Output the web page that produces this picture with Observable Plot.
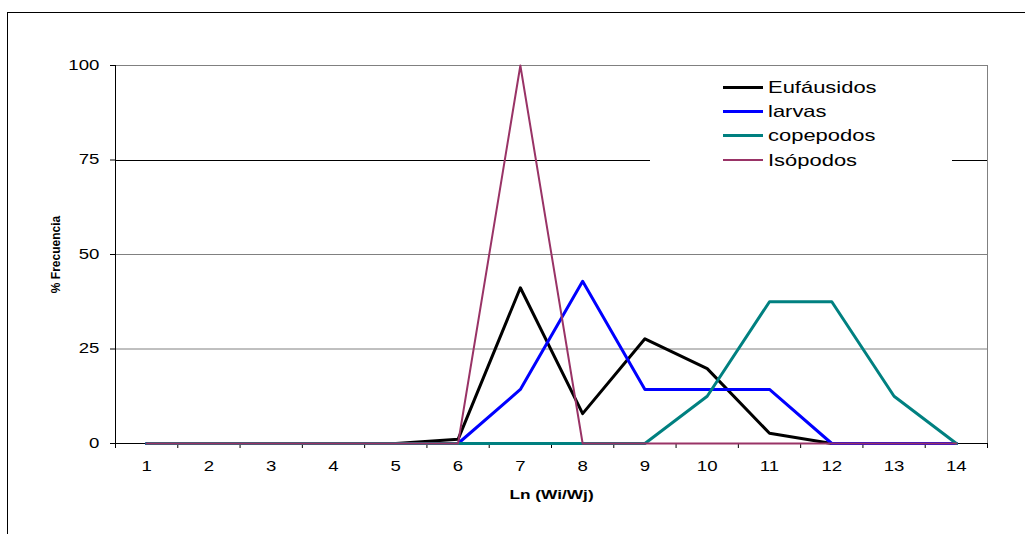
<!DOCTYPE html>
<html>
<head>
<meta charset="utf-8">
<script src="https://cdn.jsdelivr.net/npm/d3@7"></script>
<script src="https://cdn.jsdelivr.net/npm/@observablehq/plot@0.6"></script>
<style>
  html, body { margin: 0; padding: 0; background: #fff; overflow: hidden; }
  #wrap { position: relative; width: 1025px; height: 534px; font-family: "Liberation Sans", Arial, sans-serif; }
  #frame { position: absolute; left: 7px; top: 12px; width: 2000px; height: 2000px; border-left: 1px solid #000; border-top: 1px solid #000; }
  #chart { position: absolute; left: 0; top: 0; }
  #legend { position: absolute; left: 650px; top: 72px; width: 302px; height: 100px; background: #fff; }
  .lrow { position: absolute; left: 0; height: 24px; }
  .lline { position: absolute; left: 73px; width: 40px; }
  .ltext { position: absolute; left: 118px; font-size: 16.5px; line-height: 20px; white-space: nowrap; transform: scaleX(1.33); transform-origin: left center; color: #000; }
</style>
</head>
<body>
<div id="wrap">
  <div id="frame"></div>
  <div id="chart"></div>
  <div id="legend"></div>
</div>
<script>
// ---- data ----
const categories = [1, 2, 3, 4, 5, 6, 7, 8, 9, 10, 11, 12, 13, 14];
const eufausidos = [0, 0, 0, 0, 0, 1.1, 41.2, 7.9, 27.7, 19.8, 2.7, 0, 0, 0];
const larvas     = [0, 0, 0, 0, 0, 0, 14.3, 42.9, 14.3, 14.3, 14.3, 0, 0, 0];
const copepodos  = [0, 0, 0, 0, 0, 0, 0, 0, 0, 12.5, 37.5, 37.5, 12.5, 0];
const isopodos   = [0, 0, 0, 0, 0, 0, 100, 0, 0, 0, 0, 0, 0, 0];
const seriesNames = ["Eufáusidos", "larvas", "copepodos", "Isópodos"];
const seriesColors = ["#000000", "#0000ff", "#008080", "#993366"];
const seriesWidths = [3, 3, 3, 2];
const yTicks = [0, 25, 50, 75, 100];
const xTitle = "Ln (Wi/Wj)";
const yTitle = "% Frecuencia";

const seriesValues = [eufausidos, larvas, copepodos, isopodos];
const boundaries = [categories[0] - 0.5, ...categories.map(c => c + 0.5)];
const lo = boundaries[0], hi = boundaries[boundaries.length - 1];

const lineMarks = seriesValues.map((vals, i) =>
  Plot.line(categories.map((c, j) => ({x: c, y: vals[j]})), {
    x: "x", y: "y", stroke: seriesColors[i], strokeWidth: seriesWidths[i], strokeLinejoin: "round"
  })
);

const chart = Plot.plot({
  width: 1025,
  height: 534,
  marginLeft: 115,
  marginRight: 38,
  marginTop: 65,
  marginBottom: 91,
  style: {fontFamily: "'Liberation Sans', Arial, sans-serif", fontSize: "14px", color: "#000", background: "transparent"},
  x: {type: "linear", domain: [lo, hi]},
  y: {domain: [0, 100]},
  marks: [
    Plot.ruleY(yTicks.filter(v => v !== 0 && v !== 75), {stroke: "#808080", strokeWidth: 1}),
    Plot.ruleY(yTicks.filter(v => v === 75), {stroke: "#000", strokeWidth: 1, shapeRendering: "crispEdges"}),
    Plot.ruleX([hi], {stroke: "#808080", strokeWidth: 1}),
    Plot.axisY({ticks: yTicks, tickSize: 5, tickPadding: 11, fontSize: 14, label: null, stroke: "#000"}),
    Plot.axisX({ticks: boundaries, tickSize: 5, tickFormat: () => "", label: null, stroke: "#000"}),
    Plot.axisX({ticks: categories, tickSize: 0, tickPadding: 18, fontSize: 14, label: null, tickFormat: d => String(d)}),
    Plot.ruleY([0], {stroke: "#000", strokeWidth: 1}),
    Plot.ruleX([lo], {stroke: "#000", strokeWidth: 1}),
    ...lineMarks,
    Plot.text([xTitle], {text: d => d, frameAnchor: "bottom", dy: 51, lineAnchor: "middle", fontWeight: "bold", fontSize: 13, fill: "#000"}),
    Plot.text([yTitle], {text: d => d, frameAnchor: "left", dx: -59, rotate: -90, lineAnchor: "middle", textAnchor: "middle", fontWeight: "bold", fontSize: 12, fill: "#000"})
  ]
});

document.getElementById("chart").appendChild(chart);

// stretch horizontal texts horizontally around their anchor (reference text is wide)
const SVGNS = "http://www.w3.org/2000/svg";
Array.from(chart.querySelectorAll("text")).forEach(t => {
  const tr = t.getAttribute("transform") || "";
  if (/rotate/.test(tr)) return;
  const r = t.getBoundingClientRect();
  if (!r.width) return;
  const anchor = getComputedStyle(t).textAnchor;
  const sx = anchor === "end" ? r.right : anchor === "middle" ? (r.left + r.right) / 2 : r.left;
  const parent = t.parentNode;
  const inv = parent.getScreenCTM().inverse();
  const pt = chart.createSVGPoint();
  pt.x = sx; pt.y = r.top;
  const p = pt.matrixTransform(inv);
  const g = document.createElementNS(SVGNS, "g");
  g.setAttribute("transform", `translate(${p.x},0) scale(1.33,1) translate(${-p.x},0)`);
  parent.insertBefore(g, t);
  g.appendChild(t);
});

// legend
const legend = document.getElementById("legend");
seriesNames.forEach((name, i) => {
  const row = document.createElement("div");
  row.className = "lrow";
  row.style.top = (3 + i * 24.2) + "px";
  row.style.width = "302px";
  const ln = document.createElement("div");
  ln.className = "lline";
  ln.style.top = (12 - seriesWidths[i] / 2) + "px";
  ln.style.borderTop = `${seriesWidths[i]}px solid ${seriesColors[i]}`;
  const tx = document.createElement("div");
  tx.className = "ltext";
  tx.style.top = "2px";
  tx.textContent = name;
  row.appendChild(ln);
  row.appendChild(tx);
  legend.appendChild(row);
});
</script>
</body>
</html>
